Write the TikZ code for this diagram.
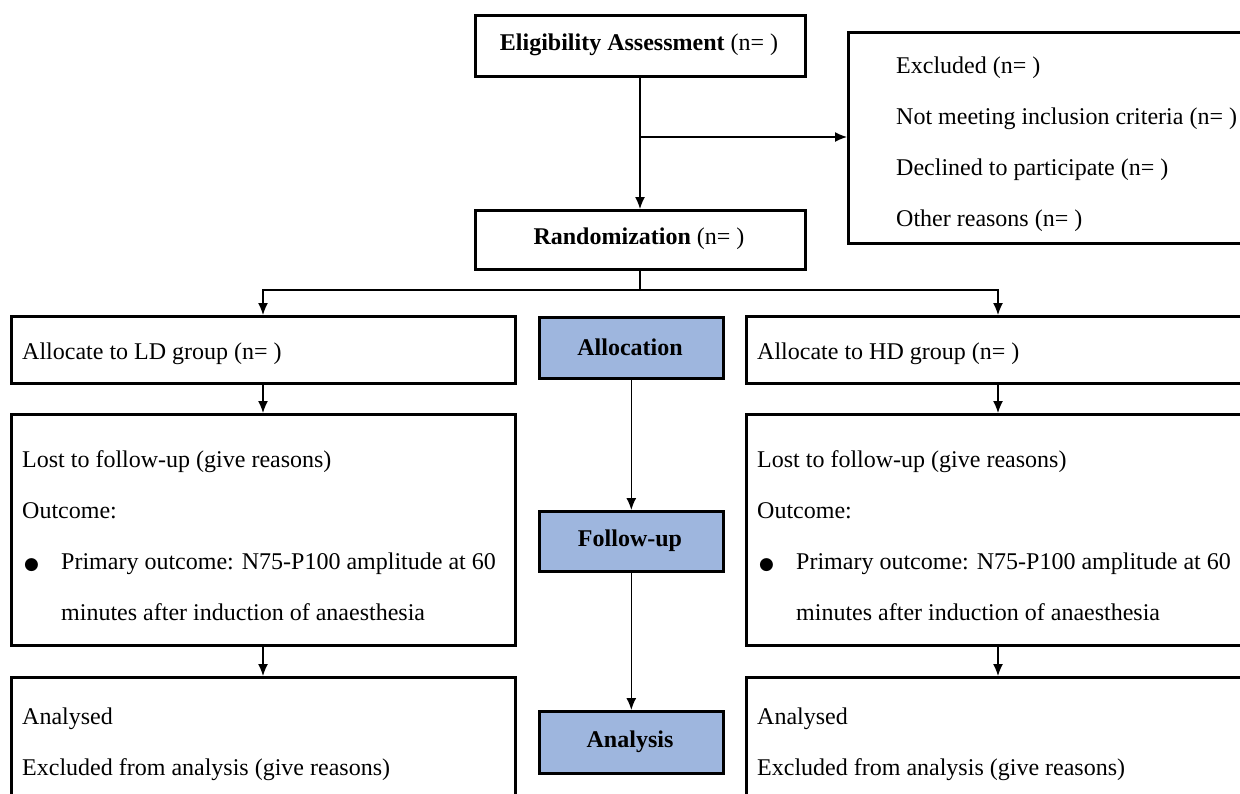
\documentclass[tikz,border=0pt]{standalone}
\usepackage{fontspec}
\setmainfont{Liberation Serif}
\newfontfamily\symfont{DejaVu Sans}
\usetikzlibrary{arrows.meta}
\definecolor{stageblue}{RGB}{158,182,222}
\tikzset{
  box/.style={draw=black, line width=2.6pt, fill=white, inner sep=0pt, anchor=north west},
  stagebox/.style={box, fill=stageblue, font=\bfseries},
  txt/.style={anchor=base west, inner sep=0pt},
  conn/.style={line width=1.4pt, -{Latex[length=12pt,width=10pt]}},
  plain/.style={line width=1.4pt}
}
\begin{document}
\begin{tikzpicture}[x=1pt,y=-1pt,font=\fontsize{24}{29}\selectfont]
\path[use as bounding box] (0,0) rectangle (1240,793);
\clip (0,0) rectangle (1240,793);
% top boxes
\node[box, minimum width=330pt, minimum height=61pt] (elig) at (474,14) {};
\node (eligt) at (639,45) {\textbf{Eligibility Assessment} (n= )};
\node[box, minimum width=420pt, minimum height=211pt] (excl) at (847,31) {};
\node[txt] (ex1) at (896,73) {Excluded (n= )};
\node[txt] (ex2) at (896,124) {Not meeting inclusion criteria (n= )};
\node[txt] (ex3) at (896,175) {Declined to participate (n= )};
\node[txt] (ex4) at (896,226) {Other reasons (n= )};
\node[box, minimum width=330pt, minimum height=59pt] (rand) at (474,209) {};
\node (randt) at (639,239) {\textbf{Randomization} (n= )};
% allocation row
\node[box, minimum width=504pt, minimum height=67pt] (ld) at (10,315) {};
\node[txt] (ldt) at (22,359) {Allocate to LD group (n= )};
\node[stagebox, minimum width=184pt, minimum height=61pt] (alloc) at (538,316) {};
\node[font=\fontsize{24}{29}\selectfont\bfseries] (alloct) at (630,347) {Allocation};
\node[box, minimum width=520pt, minimum height=67pt] (hd) at (745,315) {};
\node[txt] (hdt) at (757,359) {Allocate to HD group (n= )};
% follow-up row
\node[box, minimum width=504pt, minimum height=231pt] (ldfu) at (10,413) {};
\node[txt] (ldf1) at (22,467) {Lost to follow-up (give reasons)};
\node[txt] (ldf2) at (22,518) {Outcome:};
\node[txt] (ldb) at (24,569) {{\symfont\fontsize{17}{20}\selectfont ●}};
\node[txt] (ldf3) at (61,569) {Primary outcome: N75-P100 amplitude at 60};
\node[txt] (ldf4) at (61,620) {minutes after induction of anaesthesia};
\node[stagebox, minimum width=184pt, minimum height=60pt] (fu) at (538,510) {};
\node[font=\fontsize{24}{29}\selectfont\bfseries] (fut) at (630,541) {Follow-up};
\node[box, minimum width=520pt, minimum height=231pt] (hdfu) at (745,413) {};
\node[txt] (hdf1) at (757,467) {Lost to follow-up (give reasons)};
\node[txt] (hdf2) at (757,518) {Outcome:};
\node[txt] (hdb) at (759,569) {{\symfont\fontsize{17}{20}\selectfont ●}};
\node[txt] (hdf3) at (796,569) {Primary outcome: N75-P100 amplitude at 60};
\node[txt] (hdf4) at (796,620) {minutes after induction of anaesthesia};
% analysis row
\node[box, minimum width=504pt, minimum height=140pt] (ldan) at (10,676) {};
\node[txt] (lda1) at (22,724) {Analysed};
\node[txt] (lda2) at (22,775) {Excluded from analysis (give reasons)};
\node[stagebox, minimum width=184pt, minimum height=62pt] (an) at (538,710) {};
\node[font=\fontsize{24}{29}\selectfont\bfseries] (ant) at (630,742) {Analysis};
\node[box, minimum width=520pt, minimum height=140pt] (hdan) at (745,676) {};
\node[txt] (hda1) at (757,724) {Analysed};
\node[txt] (hda2) at (757,775) {Excluded from analysis (give reasons)};
% connectors
\coordinate (br) at (640,137);
\coordinate (split) at (640,290);
\coordinate (lsplit) at (263,290);
\coordinate (rsplit) at (998,290);
\draw[conn] (elig.south -| br) -- (rand.north -| br);
\draw[conn] (br) -- (br -| excl.west);
\draw[plain] (rand.south -| split) -- (split);
\draw[conn] (split) -- (lsplit) -- (lsplit |- ld.north);
\draw[conn] (split) -- (rsplit) -- (rsplit |- hd.north);
\draw[conn] (ld.south -| lsplit) -- (ldfu.north -| lsplit);
\draw[conn] (ldfu.south -| lsplit) -- (ldan.north -| lsplit);
\draw[conn] (hd.south -| rsplit) -- (hdfu.north -| rsplit);
\draw[conn] (hdfu.south -| rsplit) -- (hdan.north -| rsplit);
\draw[conn] (alloc.south) -- (fu.north);
\draw[conn] (fu.south) -- (an.north);
\end{tikzpicture}
\end{document}
